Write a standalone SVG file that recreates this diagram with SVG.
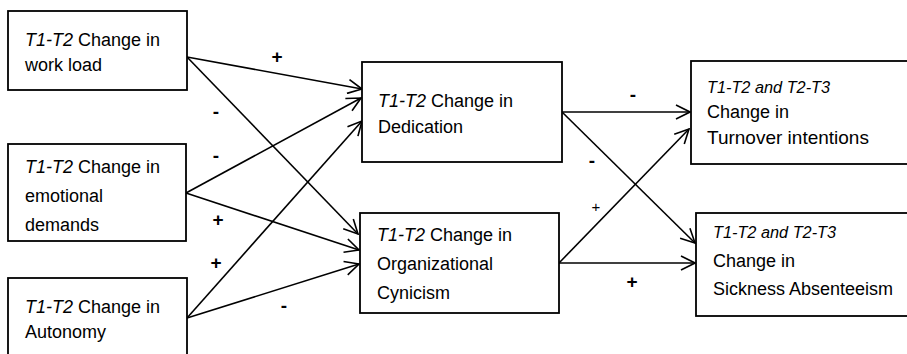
<svg xmlns="http://www.w3.org/2000/svg" width="907" height="354" viewBox="0 0 907 354">
<style>
.box{fill:#fff;stroke:#000;stroke-width:1.8}
.t{font-family:"Liberation Sans",Arial,sans-serif;font-size:18px;fill:#000}
.i{font-style:italic}
.s{font-family:"Liberation Sans",Arial,sans-serif;font-size:19px;font-weight:bold;fill:#000;text-anchor:middle}
.c{fill:none;stroke:#000;stroke-width:1.6;marker-end:url(#ah)}
</style>
<defs>
<marker id="ah" viewBox="0 0 16 16" refX="15" refY="8" markerWidth="16" markerHeight="16" markerUnits="userSpaceOnUse" orient="auto">
<path d="M1,1 L15,8 L1,15" fill="none" stroke="#000" stroke-width="1.6"/>
</marker>
</defs>
<rect width="907" height="354" fill="#fff"/>
<g id="connectors">
<line class="c" x1="187" y1="57" x2="362" y2="89"/>
<line class="c" x1="187" y1="57" x2="358" y2="234"/>
<line class="c" x1="186" y1="193" x2="361" y2="98"/>
<line class="c" x1="186" y1="193" x2="359" y2="250"/>
<line class="c" x1="187" y1="318" x2="362" y2="121"/>
<line class="c" x1="187" y1="318" x2="359" y2="264"/>
<line class="c" x1="562" y1="112" x2="690" y2="112"/>
<line class="c" x1="562" y1="112" x2="695" y2="243"/>
<line class="c" x1="559" y1="263" x2="689" y2="129"/>
<line class="c" x1="559" y1="263" x2="695" y2="263"/>
<text class="s" x="277" y="63">+</text>
<text class="s" x="216" y="118">-</text>
<text class="s" x="216" y="162">-</text>
<text class="s" x="218" y="226">+</text>
<text class="s" x="216" y="269">+</text>
<text class="s" x="284" y="312">-</text>
<text class="s" x="633" y="101">-</text>
<text class="s" x="592" y="167">-</text>
<text class="s" x="596" y="212" style="font-size:15px;font-weight:normal">+</text>
<text class="s" x="632" y="288">+</text>
</g>
<g id="workload">
<rect class="box" x="8" y="11" width="179" height="79"/>
<text class="t" x="25" y="46"><tspan class="i">T1-T2</tspan> Change in</text>
<text class="t" x="25" y="71">work load</text>
</g>
<g id="emotional">
<rect class="box" x="8" y="144" width="178" height="97"/>
<text class="t" x="25" y="173"><tspan class="i">T1-T2</tspan> Change in</text>
<text class="t" x="25" y="202">emotional</text>
<text class="t" x="25" y="231">demands</text>
</g>
<g id="autonomy">
<rect class="box" x="8" y="278" width="179" height="90"/>
<text class="t" x="25" y="313"><tspan class="i">T1-T2</tspan> Change in</text>
<text class="t" x="25" y="338">Autonomy</text>
</g>
<g id="dedication">
<rect class="box" x="362" y="62" width="200" height="100"/>
<text class="t" x="378" y="107"><tspan class="i">T1-T2</tspan> Change in</text>
<text class="t" x="378" y="133">Dedication</text>
</g>
<g id="cynicism">
<rect class="box" x="360" y="213" width="199" height="100"/>
<text class="t" x="377" y="241"><tspan class="i">T1-T2</tspan> Change in</text>
<text class="t" x="377" y="270">Organizational</text>
<text class="t" x="377" y="299">Cynicism</text>
</g>
<g id="turnover">
<rect class="box" x="691" y="61" width="225" height="103"/>
<text class="t i" x="707" y="93" style="font-size:16.3px">T1-T2 and T2-T3</text>
<text class="t" x="707" y="118">Change in</text>
<text class="t" x="707" y="144" style="font-size:19px">Turnover intentions</text>
</g>
<g id="sickness">
<rect class="box" x="696" y="213" width="220" height="103"/>
<text class="t i" x="713" y="238" style="font-size:16.3px">T1-T2 and T2-T3</text>
<text class="t" x="713" y="267">Change in</text>
<text class="t" x="713" y="295">Sickness Absenteeism</text>
</g>
</svg>
